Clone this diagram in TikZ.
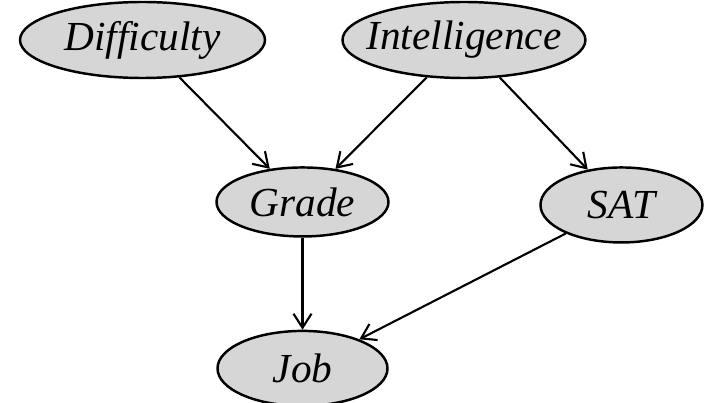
\documentclass[tikz,border=0pt]{standalone}
\usepackage{fontspec}
\setmainfont{Liberation Serif}
\usetikzlibrary{positioning,arrows.meta,shapes.geometric}
\definecolor{NodeFill}{RGB}{214,214,214}
\newcommand{\vlabel}[1]{\makebox[0pt]{#1}}

\begin{document}
\begin{tikzpicture}[
    var/.style={ellipse, draw=black, line width=1.4pt, fill=NodeFill,
        font=\fontsize{23.5}{27}\selectfont\itshape, inner sep=0pt},
    arr/.style={-{Straight Barb[length=2.8mm, width=3.6mm, line width=1.2pt]}, line width=1.2pt, black},
]
\useasboundingbox (0,0) rectangle (14.26,-8.06);
\node[var, minimum width=4.9cm, minimum height=1.52cm] (diff) at (2.85,-0.80) {\vlabel{Difficulty}};
\node[var, minimum width=4.86cm, minimum height=1.52cm, right=1.5cm of diff] (intel) {\vlabel{Intelligence}};
\node[var, minimum width=3.44cm, minimum height=1.38cm, below=1.74cm of diff, xshift=3.2cm] (grade) {\vlabel{Grade}};
\node[var, minimum width=3.24cm, minimum height=1.5cm, below=1.74cm of intel, xshift=3.15cm] (sat) {\vlabel{SAT}};
\node[var, minimum width=3.4cm, minimum height=1.5cm, below=1.84cm of grade] (job) {\vlabel{Job}};

\draw[arr] (diff) -- (grade);
\draw[arr] (intel) -- (grade);
\draw[arr] (intel) -- (sat);
\draw[arr] (grade) -- (job);
\draw[arr] (sat) -- (job);
\end{tikzpicture}
\end{document}
